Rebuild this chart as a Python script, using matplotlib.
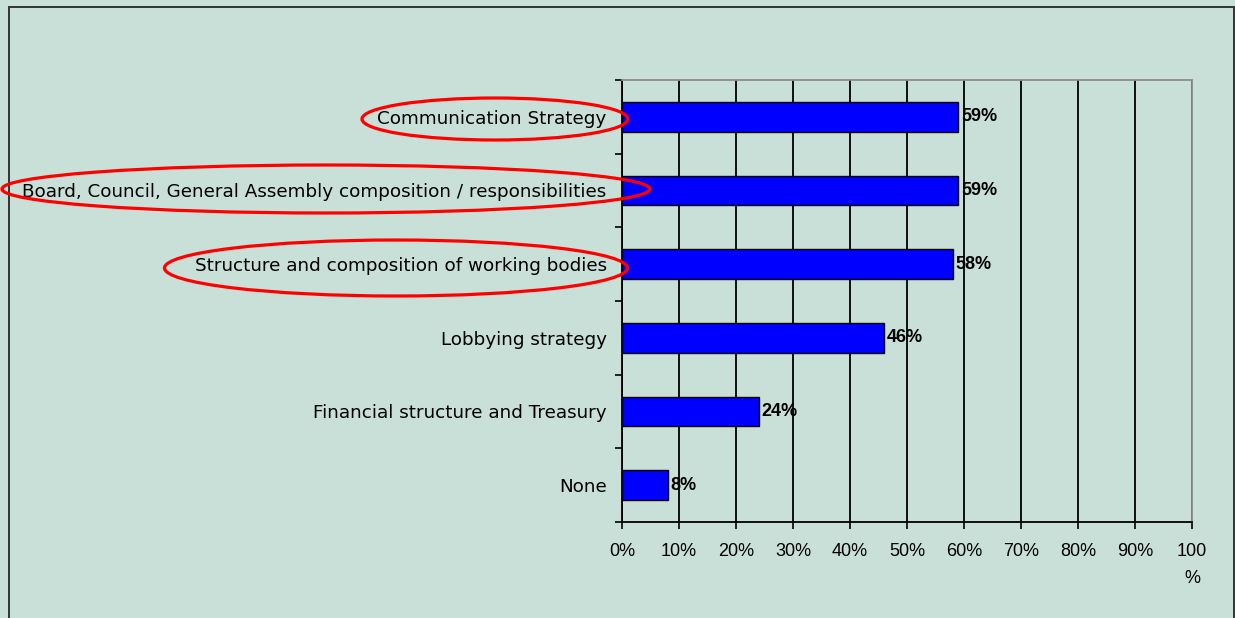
import matplotlib
matplotlib.use("Agg")
import matplotlib.pyplot as plt
from matplotlib.patches import Ellipse, Rectangle
from matplotlib.ticker import FixedLocator

categories = [
    "Communication Strategy",
    "Board, Council, General Assembly composition / responsibilities",
    "Structure and composition of working bodies",
    "Lobbying strategy",
    "Financial structure and Treasury",
    "None",
]
values = [59, 59, 58, 46, 24, 8]
xticks = [0, 10, 20, 30, 40, 50, 60, 70, 80, 90, 100]
xtick_labels = ["0%", "10%", "20%", "30%", "40%", "50%", "60%", "70%", "80%", "90%", "100\n%"]

BG = "#C9E0D8"
plt.rcParams["font.family"] = ["Liberation Sans", "DejaVu Sans"]

W, H = 1235, 618
fig = plt.figure(figsize=(W / 100, H / 100), dpi=100, facecolor=BG)
ax = fig.add_axes([622 / W, 1 - 522 / H, 570 / W, 442 / H])
ax.set_facecolor(BG)

pos = list(range(len(categories)))
ax.set_xlim(0, 100)
ax.set_ylim(len(categories) - 0.5, -0.5)

ax.xaxis.grid(True, color="black", linewidth=1.3)
ax.set_axisbelow(True)

bars = ax.barh(pos, values, height=0.4, color="#0000FF", edgecolor="black", linewidth=1.0, zorder=3)
for b, v in zip(bars, values):
    ax.annotate(f"{v}%", (b.get_width(), b.get_y() + b.get_height() / 2),
                xytext=(2, 0), textcoords="offset points", ha="left", va="center",
                fontsize=13, fontweight="bold", color="black")

ax.set_yticks(pos)
ax.set_yticklabels(categories, fontsize=13.2, family=["DejaVu Sans"])
ax.yaxis.set_minor_locator(FixedLocator([p + 0.5 for p in range(-1, len(categories))]))
ax.tick_params(axis="y", which="major", length=0, pad=11)
ax.tick_params(axis="y", which="minor", length=5, width=1.2, color="black", direction="out")

ax.set_xticks(xticks)
ax.set_xticklabels(xtick_labels, fontsize=13, linespacing=1.75, va="top")
ax.tick_params(axis="x", length=5, width=1.2, color="black", direction="out", pad=10)

for side in ("left", "bottom"):
    ax.spines[side].set_color("black")
    ax.spines[side].set_linewidth(1.3)
for side in ("top", "right"):
    ax.spines[side].set_color("#8C8C8C")
    ax.spines[side].set_linewidth(1.3)


def px(x, y):
    # pixel position measured from the top-left corner -> figure fraction
    return x / W, 1 - y / H


# outer frame of the chart area
fig.patches.append(Rectangle(px(8.5, 640), (1233.5 - 8.5) / W, (640 - 6.5) / H,
                             transform=fig.transFigure, facecolor="none",
                             edgecolor="#333333", linewidth=1.4))

# red highlight rings around the top three labels
rings = [(495, 119, 266, 42), (326, 189, 648, 48), (396, 268, 463, 56)]
for cx, cy, w, h in rings:
    fig.patches.append(Ellipse(px(cx, cy), w / W, h / H, transform=fig.transFigure,
                               facecolor="none", edgecolor="#FF0000", linewidth=2.3, zorder=5))

fig.savefig("out.png", dpi=100, facecolor=BG)
